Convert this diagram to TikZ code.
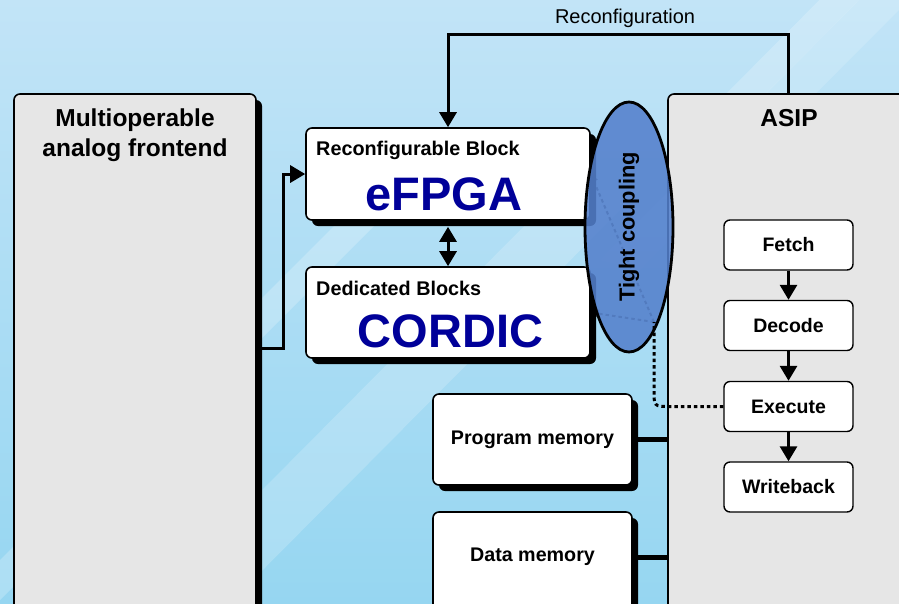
\documentclass[tikz,border=0pt]{standalone}
\usepackage{fontspec}
\setmainfont{Liberation Sans}
\usetikzlibrary{arrows.meta,shapes.geometric,shadows}

\definecolor{bgtop}{RGB}{194,228,247}
\definecolor{bgbot}{RGB}{150,214,241}
\definecolor{panel}{RGB}{230,230,230}
\definecolor{fpgablue}{RGB}{0,0,153}
\definecolor{coupling}{RGB}{84,128,204}

\tikzset{
  block/.style={draw, line width=1.6pt, rounded corners=6pt, fill=white, inner sep=0pt,
    drop shadow={shadow xshift=6pt, shadow yshift=-6pt, fill=black, opacity=1}},
  panelbox/.style={draw, line width=1.6pt, rounded corners=6pt, fill=panel, inner sep=0pt},
  stage/.style={draw, line width=1.4pt, rounded corners=6pt, fill=white,
    minimum width=129pt, minimum height=50pt, font=\fontsize{19.5}{23}\selectfont\bfseries},
  title/.style={font=\fontsize{24.5}{30}\selectfont\bfseries, align=center, inner sep=0pt, anchor=north},
  blocktext/.style={font=\fontsize{19.8}{23}\selectfont\bfseries, inner sep=0pt, anchor=base west},
  bigtext/.style={font=\fontsize{47}{50}\selectfont\bfseries, text=fpgablue, inner sep=0pt, anchor=base},
  memtext/.style={font=\fontsize{19.7}{23}\selectfont\bfseries},
  conn/.style={line width=3pt, -{Triangle[length=15pt,width=17pt]}},
  bus/.style={line width=5pt},
  link/.style={line width=3pt, dash pattern=on 3.5pt off 3pt}
}

\begin{document}
\begin{tikzpicture}[x=1pt,y=-1pt]
\useasboundingbox (0,0) rectangle (899,603);
\clip (0,0) rectangle (899,603);

% background
\shade[top color=bgtop, bottom color=bgbot] (0,0) rectangle (899,603);
\fill[white, opacity=.22] (0,560) -- (430,130) -- (470,130) -- (0,600) -- cycle;
\fill[white, opacity=.18] (150,603) -- (560,190) -- (640,190) -- (230,603) -- cycle;
\fill[white, opacity=.15] (600,260) -- (899,-40) -- (899,10) -- (640,270) -- cycle;
\fill[white, opacity=.2] (700,120) -- (899,-80) -- (899,-40) -- (720,140) -- cycle;

% boxes
\node[panelbox, minimum width=242pt, minimum height=530pt,
  drop shadow={shadow xshift=6pt, shadow yshift=-6pt, fill=black, opacity=1}] (front) at (135,359) {};
\node[panelbox, minimum width=244pt, minimum height=530pt] (asip) at (790,359) {};
\node[block, minimum width=284pt, minimum height=92pt] (efpga) at (448,174) {};
\node[block, minimum width=284pt, minimum height=91pt] (cordic) at (448,312.5) {};
\node[block, minimum width=199pt, minimum height=91pt] (progmem) at (532.5,439.5) {};
\node[block, minimum width=199pt, minimum height=110pt] (datamem) at (532.5,567) {};

% coupling, partly hidden
\coordinate (tc) at (654,322);
\draw[link, line width=2pt, opacity=.6, -{Triangle[length=8pt,width=8pt]}] (tc) -- (efpga.east);
\draw[link, line width=2pt, opacity=.6, -{Triangle[length=8pt,width=8pt]}] (tc) -- (cordic.east);
\node[ellipse, draw, line width=2.8pt, fill=coupling, fill opacity=.88, draw opacity=1,
  minimum width=250pt, minimum height=88pt, rotate=90] (tight) at (629,227) {};
\node[font=\fontsize{21.8}{25}\selectfont\bfseries, rotate=90] (tightlabel) at (tight.center) {Tight coupling};

% texts
\node[title] (fronttitle) at (135,109) {Multioperable\\analog frontend};
\node[title] (asiptitle) at (789,109) {ASIP};
\node[blocktext] (reconfname) at (316,155) {Reconfigurable Block};
\node[bigtext] (efpganame) at (444,210) {eFPGA};
\node[blocktext] (dedname) at (316,295) {Dedicated Blocks};
\node[bigtext] (cordicname) at (450.5,347) {CORDIC};
\node[memtext] (progname) at (progmem.center) {Program memory};
\node[memtext] (dataname) at (532.5,557) {Data memory};

% pipeline
\node[stage] (fetch) at (788.5,245) {Fetch};
\node[stage] (decode) at (788.5,325.5) {Decode};
\node[stage] (execute) at (788.5,406.5) {Execute};
\node[stage] (writeback) at (788.5,487) {Writeback};
\draw[conn] (fetch) -- (decode);
\draw[conn] (decode) -- (execute);
\draw[conn] (execute) -- (writeback);

% connections
\coordinate (split) at (283,348);
\draw[conn] (front.east |- split) -- (split) |- (efpga.west);
\draw[conn, {Triangle[length=15pt,width=17pt]}-{Triangle[length=15pt,width=17pt]}, shorten <=6pt] (efpga.south) -- (cordic.north);
\draw[conn] (asip.north -| fetch.north) -- ++(0,-59)
  -| node[pos=.24, above=2pt, font=\fontsize{20}{23}\selectfont] (reconflabel) {Reconfiguration} (efpga.north);
\draw[bus] (progmem.east) -- (progmem.east -| asip.west);
\draw[bus] (dataname.east -| datamem.east) -- (dataname.east -| asip.west);
\draw[link] (execute.west) -- (670,406.5) .. controls (654,406.5) .. (654,390) -- (tc);

\end{tikzpicture}
\end{document}
